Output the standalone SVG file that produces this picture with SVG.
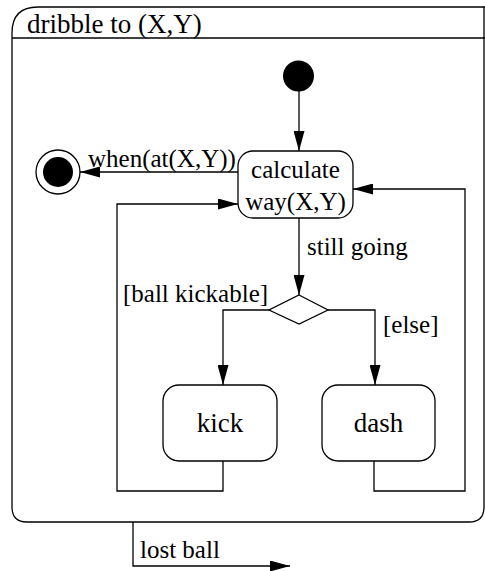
<svg xmlns="http://www.w3.org/2000/svg" width="485" height="571" viewBox="0 0 485 571">
  <style>
    text { font-family: "Liberation Serif", "Times New Roman", Times, serif; font-size: 25px; fill: #000; }
    .big { font-size: 27px; }
    .box { fill: #fff; stroke: #000; stroke-width: 1.3; }
    .line { fill: none; stroke: #000; stroke-width: 1.3; }
    .mid { text-anchor: middle; }
  </style>
  <defs>
    <marker id="arrow" viewBox="0 0 20 11" refX="20" refY="5.5" markerWidth="20" markerHeight="11" markerUnits="userSpaceOnUse" orient="auto">
      <path d="M0,0 L20,5.5 L0,11 Z" fill="#000"/>
    </marker>
  </defs>

  <!-- composite state frame with its name compartment -->
  <g id="dribble">
    <path class="box" d="M12,507 V33 Q12,7 38,7 H485 M484,7 V507 Q484,522 469,522 H27 Q12,522 12,507"/>
    <line class="line" x1="12" y1="38" x2="485" y2="38"/>
    <text class="big" x="27" y="33">dribble to (X,Y)</text>
  </g>

  <g id="connectors">
    <!-- initial -> calculate -->
    <line class="line" x1="299" y1="91" x2="299" y2="151" marker-end="url(#arrow)"/>
    <!-- calculate -> final -->
    <line class="line" x1="238" y1="172" x2="80" y2="172" marker-end="url(#arrow)"/>
    <text x="88" y="167">when(at(X,Y))</text>
    <!-- calculate -> decision -->
    <line class="line" x1="299" y1="218" x2="299" y2="295" marker-end="url(#arrow)"/>
    <text x="307" y="255">still going</text>
    <!-- decision -> kick -->
    <polyline class="line" points="269,310 223,310 223,385" marker-end="url(#arrow)"/>
    <text x="123" y="302">[ball kickable]</text>
    <!-- decision -> dash -->
    <polyline class="line" points="328,310 375,310 375,385" marker-end="url(#arrow)"/>
    <text x="383" y="333">[else]</text>
    <!-- kick -> calculate -->
    <polyline class="line" points="223,461 223,491 117,491 117,204 238,204" marker-end="url(#arrow)"/>
    <!-- dash -> calculate -->
    <polyline class="line" points="374,461 374,491 465,491 465,189 353,189" marker-end="url(#arrow)"/>
    <!-- leaving the composite state -->
    <polyline class="line" points="133,522 133,566 290,566" marker-end="url(#arrow)"/>
    <text x="140" y="558">lost ball</text>
  </g>

  <g id="initial">
    <circle cx="298.5" cy="76" r="15.5" fill="#000"/>
  </g>

  <g id="final">
    <circle cx="58" cy="172" r="22" fill="#fff" stroke="#000" stroke-width="1.3"/>
    <circle cx="58" cy="172" r="15" fill="#000"/>
  </g>

  <g id="calculate">
    <rect class="box" x="238" y="151" width="115" height="67" rx="15"/>
    <text class="mid" x="295.5" y="178">calculate</text>
    <text class="mid" x="295.5" y="210">way(X,Y)</text>
  </g>

  <g id="decision">
    <polygon class="box" points="299,295 328,310 299,324 269,310"/>
  </g>

  <g id="kick">
    <rect class="box" x="163" y="385" width="114" height="76" rx="16"/>
    <text class="mid big" x="220" y="432">kick</text>
  </g>

  <g id="dash">
    <rect class="box" x="322" y="385" width="113" height="76" rx="16"/>
    <text class="mid big" x="378.5" y="432">dash</text>
  </g>
</svg>
